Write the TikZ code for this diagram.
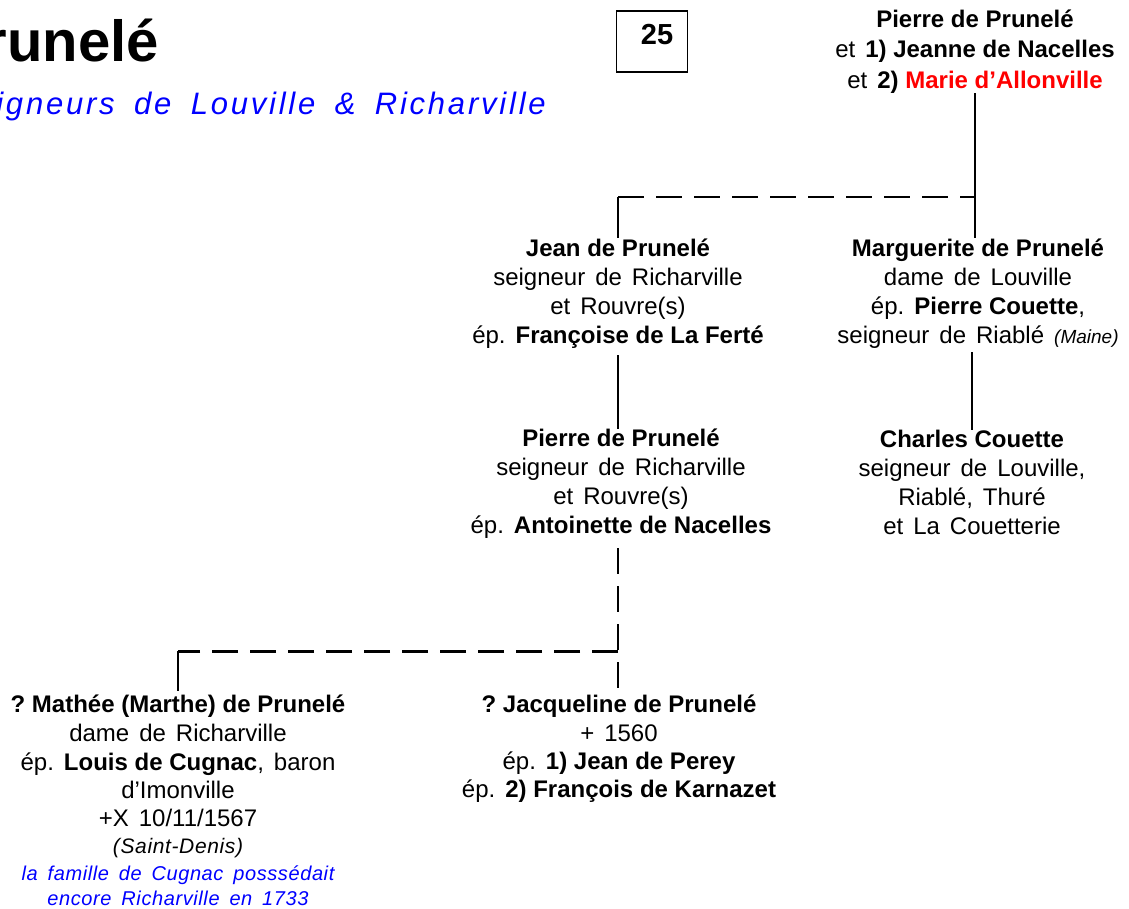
\documentclass[tikz,border=0pt]{standalone}
\usepackage{fontspec}
\setmainfont{Liberation Sans}[WordSpace=1.5,BoldFeatures={WordSpace=1}]
\newfontfamily\subtitlefont{Liberation Sans}[LetterSpace=9,WordSpace=1.7]
\newfontfamily\notefont{Liberation Sans}[LetterSpace=3,WordSpace=1.6]
\definecolor{titleblue}{RGB}{0,0,255}
\definecolor{namered}{RGB}{255,0,0}
\frenchspacing

\begin{document}
\begin{tikzpicture}[x=1pt,y=-1pt,
  person/.style={align=center,inner sep=0pt,anchor=north,font=\fontsize{24}{29}\selectfont},
  link/.style={line width=2.8pt},
  branch/.style={line width=2.8pt,dash pattern=on 26pt off 12pt}]
\useasboundingbox (0,0) rectangle (1129,909);
\clip (0,0) rectangle (1129,909);

% heading
\node[anchor=base west,inner sep=0pt,font=\fontsize{58}{60}\selectfont\bfseries] (title) at (-54,62) {Prunelé};
\node[anchor=base east,inner sep=0pt,text=titleblue,font=\subtitlefont\fontsize{31}{33}\selectfont\itshape] (subtitle) at (546,115) {Seigneurs de Louville \& Richarville};
\node[draw,line width=1.2pt,minimum width=71pt,minimum height=61pt,inner sep=0pt] (box) at (652,41.5) {};
\node[anchor=base,inner sep=0pt,font=\fontsize{29}{30}\selectfont\bfseries] (boxnum) at (657,45) {25};

% people
\node[person,font=\fontsize{24}{30.5}\selectfont] (top) at (975,9.5) {\textbf{Pierre de Prunelé}\\ et \textbf{1) Jeanne de Nacelles}\\ et \textbf{2) \textcolor{namered}{Marie d’Allonville}}};
\node[person] (jean) at (618,238.5) {\textbf{Jean de Prunelé}\\ seigneur de Richarville\\ et Rouvre(s)\\ ép. \textbf{Françoise de La Ferté}};
\node[person] (marg) at (978,238.5) {\textbf{Marguerite de Prunelé}\\ dame de Louville\\ ép. \textbf{Pierre Couette},\\ seigneur de Riablé {\itshape\fontsize{19}{29}\selectfont (Maine)}};
\node[person] (pierre) at (621,428.5) {\textbf{Pierre de Prunelé}\\ seigneur de Richarville\\ et Rouvre(s)\\ ép. \textbf{Antoinette de Nacelles}};
\node[person] (charles) at (972,429.5) {\textbf{Charles Couette}\\ seigneur de Louville,\\ Riablé, Thuré\\ et La Couetterie};
\node[person] (mathee) at (178,694.5) {\textbf{? Mathée (Marthe) de Prunelé}\\ dame de Richarville\\ ép. \textbf{Louis de Cugnac}, baron\\[-1pt] d’Imonville\\[-1pt] +X 10/11/1567\\[-2pt]
  {\notefont\itshape\fontsize{21}{27}\selectfont (Saint-Denis)}\\[-2pt]
  {\notefont\itshape\fontsize{20}{27}\selectfont\color{titleblue}la famille de Cugnac posssédait}\\[-4pt]
  {\notefont\itshape\fontsize{20}{27}\selectfont\color{titleblue}encore Richarville en 1733}};
\node[person] (jacq) at (619,694.5) {\textbf{? Jacqueline de Prunelé}\\ + 1560\\[-1pt] ép. \textbf{1) Jean de Perey}\\[-1pt] ép. \textbf{2) François de Karnazet}};

% lines
\draw[link] (top.south) -- (top.south |- marg.north);
\draw[branch] (jean.north |- 0,197) coordinate (fork1) -- (fork1 -| top.south);
\draw[link] (fork1) -- (jean.north);
\draw[link,shorten <=7pt] (jean.south) -- (jean.south |- pierre.north);
\draw[link,shorten <=4pt] (marg.south -| charles.north) -- (charles.north);
\draw[branch,shorten <=10pt,shorten >=4pt] (pierre.south -| jean.south) -- (jean.south |- jacq.north);
\draw[branch] (pierre.south -| jean.south) ++(0,113) coordinate (fork2) -- (fork2 -| mathee.north);
\draw[link,shorten >=4pt] (fork2 -| mathee.north) -- (mathee.north);
\end{tikzpicture}
\end{document}
